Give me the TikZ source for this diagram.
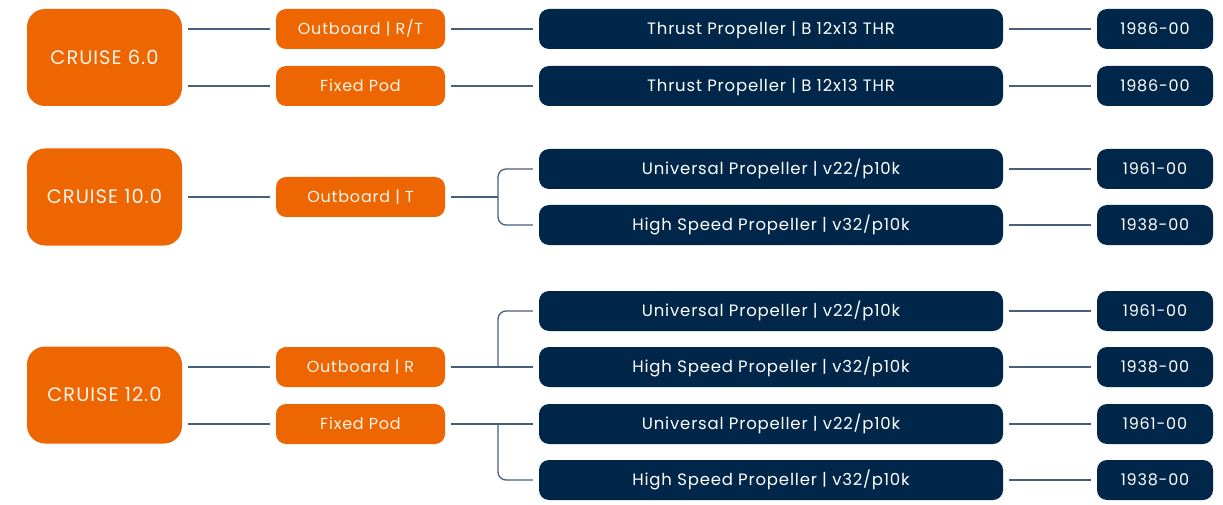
\documentclass[tikz,border=0pt]{standalone}
\usepackage{fontspec}
\setmainfont{Poppins}[LetterSpace=5]
\definecolor{cruiseorange}{HTML}{EE6602}
\definecolor{propnavy}{HTML}{00274A}
\definecolor{linkgrey}{HTML}{46607C}
\definecolor{paletext}{HTML}{FFF4EA}
\tikzset{
  cruise/.style={fill=cruiseorange, text=paletext, rounded corners=18pt, minimum width=155pt, minimum height=97pt, inner sep=0pt, text height=13.6pt, text depth=0pt, font=\fontsize{19.5}{22}\selectfont},
  drive/.style={fill=cruiseorange, text=paletext, rounded corners=10pt, minimum width=169pt, minimum height=40pt, inner sep=0pt, text height=11.2pt, text depth=0pt, font=\fontsize{16}{19}\selectfont},
  prop/.style={fill=propnavy, text=white, rounded corners=10pt, minimum width=464pt, minimum height=40pt, inner sep=0pt, text height=11.5pt, text depth=0pt, font=\fontsize{16.5}{19}\selectfont},
  partno/.style={fill=propnavy, text=white, rounded corners=10pt, minimum width=116pt, minimum height=40pt, inner sep=0pt, text height=11.2pt, text depth=0pt, font=\fontsize{16}{19}\selectfont},
  link/.style={draw=linkgrey, line width=1.3pt, shorten <=6pt, shorten >=6pt}
}
\begin{document}
\begin{tikzpicture}[x=1pt,y=-1pt]
	\useasboundingbox (0,0) rectangle (1223,505);
	% cruise models
	\node[cruise] (c6) at (104.5,57.5) {CRUISE 6.0};
	\node[cruise] (c10) at (104.5,197) {CRUISE 10.0};
	\node[cruise] (c12) at (104.5,395) {CRUISE 12.0};
	% drives
	\node[drive] (m1) at (360.5,29) {Outboard | R/T};
	\node[drive] (m2) at (360.5,86) {Fixed Pod};
	\node[drive] (m3) at (360.5,197) {Outboard | T};
	\node[drive] (m4) at (360.5,367) {Outboard | R};
	\node[drive] (m5) at (360.5,424) {Fixed Pod};
	% propellers
	\node[prop] (p1) at (771,29) {Thrust Propeller | B 12x13 THR};
	\node[prop] (p2) at (771,86) {Thrust Propeller | B 12x13 THR};
	\node[prop] (p3) at (771,169) {Universal Propeller | v22/p10k};
	\node[prop] (p4) at (771,225) {High Speed Propeller | v32/p10k};
	\node[prop] (p5) at (771,311) {Universal Propeller | v22/p10k};
	\node[prop] (p6) at (771,367) {High Speed Propeller | v32/p10k};
	\node[prop] (p7) at (771,424) {Universal Propeller | v22/p10k};
	\node[prop] (p8) at (771,480) {High Speed Propeller | v32/p10k};
	% part numbers
	\node[partno] (n1) at (1155,29) {1986-00};
	\node[partno] (n2) at (1155,86) {1986-00};
	\node[partno] (n3) at (1155,169) {1961-00};
	\node[partno] (n4) at (1155,225) {1938-00};
	\node[partno] (n5) at (1155,311) {1961-00};
	\node[partno] (n6) at (1155,367) {1938-00};
	\node[partno] (n7) at (1155,424) {1961-00};
	\node[partno] (n8) at (1155,480) {1938-00};
	\coordinate (j) at (498,0);
	% cruise to drive
	\draw[link] (c6.east |- m1) -- (m1.west);
	\draw[link] (c6.east |- m2) -- (m2.west);
	\draw[link] (c10.east) -- (m3.west);
	\draw[link] (c12.east |- m4) -- (m4.west);
	\draw[link] (c12.east |- m5) -- (m5.west);
	% drive to propeller
	\draw[link] (m1.east) -- (p1.west);
	\draw[link] (m2.east) -- (p2.west);
	\draw[link, shorten >=0pt] (m3.east) -- (m3.east -| j);
	\draw[link, shorten <=0pt, rounded corners=8pt] (m3.east -| j) |- (p3.west);
	\draw[link, shorten <=0pt, rounded corners=8pt] (m3.east -| j) |- (p4.west);
	\draw[link] (m4.east) -- (p6.west);
	\draw[link, shorten <=0pt, rounded corners=8pt] (m4.east -| j) |- (p5.west);
	\draw[link] (m5.east) -- (p7.west);
	\draw[link, shorten <=0pt, rounded corners=8pt] (m5.east -| j) |- (p8.west);
	% propeller to part number
	\draw[link] (p1.east) -- (n1.west);
	\draw[link] (p2.east) -- (n2.west);
	\draw[link] (p3.east) -- (n3.west);
	\draw[link] (p4.east) -- (n4.west);
	\draw[link] (p5.east) -- (n5.west);
	\draw[link] (p6.east) -- (n6.west);
	\draw[link] (p7.east) -- (n7.west);
	\draw[link] (p8.east) -- (n8.west);
\end{tikzpicture}
\end{document}
